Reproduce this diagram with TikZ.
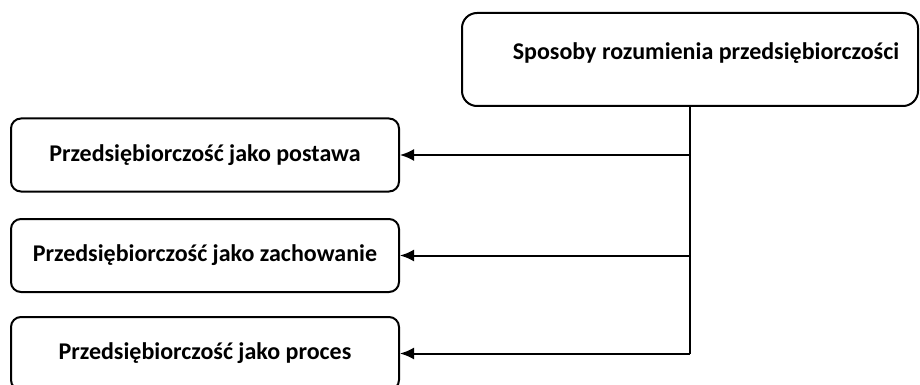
\documentclass[tikz,border=0pt]{standalone}
\usepackage{fontspec}
\setmainfont{Carlito}
\usetikzlibrary{arrows.meta}

\tikzset{
  napis/.style={font=\bfseries\fontsize{24}{28}\selectfont},
  ramka/.style={draw, line width=2pt, rounded corners=10pt,
    minimum width=388pt, minimum height=73pt, inner sep=0pt, napis},
  strzalka/.style={line width=2pt, -{Latex[length=14pt,width=12pt]}},
}

\begin{document}
\begin{tikzpicture}[x=1pt,y=-1pt]
    \useasboundingbox (0,0) rectangle (920,385);
    % ---- top: main box ----
    \node[ramka, rounded corners=15pt, minimum width=456pt, minimum height=93pt]
      (sposoby) at (690,59.5) {};
    \node[napis] (tytul) at (706,53) {Sposoby rozumienia przedsiębiorczości};
    % ---- left: three kinds ----
    \node[ramka] (postawa)    at (205,155) {Przedsiębiorczość jako postawa};
    \node[ramka] (zachowanie) at (205,255.5) {Przedsiębiorczość jako zachowanie};
    \node[ramka] (proces)     at (205,353.5) {Przedsiębiorczość jako proces};
    % ---- connectors ----
    \coordinate (dol) at (sposoby.south |- proces.east);
    \draw[line width=2pt] (sposoby.south) -- (dol);
    \foreach \n in {postawa,zachowanie,proces}{
      \draw[strzalka] (sposoby.south |- \n.east) -- (\n.east);}
\end{tikzpicture}
\end{document}
